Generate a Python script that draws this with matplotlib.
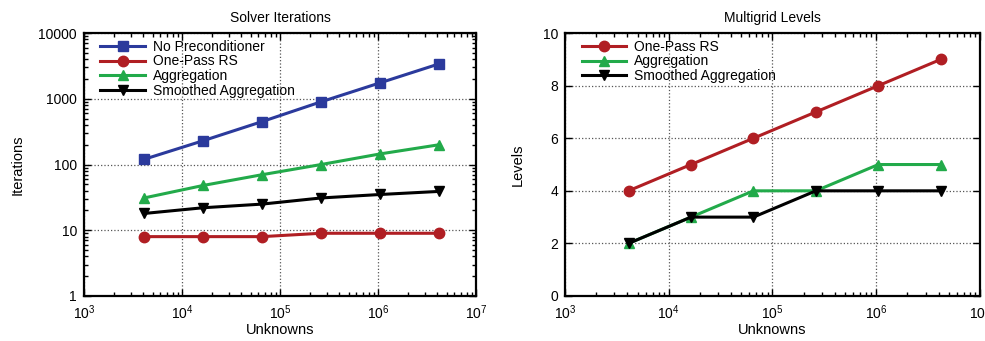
import numpy as np
import matplotlib.pyplot as plt
from matplotlib.ticker import LogLocator, NullFormatter

plt.rcParams['font.family'] = ['Liberation Sans', 'DejaVu Sans']
plt.rcParams['mathtext.fontset'] = 'custom'
plt.rcParams['mathtext.rm'] = 'Liberation Sans'

# data
unknowns = [4096, 16384, 65536, 262144, 1048576, 4194304]
iter_none = [120, 230, 450, 900, 1750, 3400]
iter_rs = [8, 8, 8, 9, 9, 9]
iter_agg = [31, 48, 70, 100, 145, 200]
iter_sa = [18, 22, 25, 31, 35, 39]
lev_rs = [4, 5, 6, 7, 8, 9]
lev_agg = [2, 3, 4, 4, 5, 5]
lev_sa = [2, 3, 3, 4, 4, 4]

blue = '#2b3a9c'
red = '#b01e23'
green = '#22aa4a'
black = '#000000'

fig = plt.figure(figsize=(9.85, 3.41), dpi=100)
ax1 = fig.add_axes([0.0853, 0.132, 0.398, 0.771])
ax2 = fig.add_axes([0.5736, 0.132, 0.4213, 0.771])

lw = 2.2
ax1.plot(unknowns, iter_none, color=blue, marker='s', ms=7.5, lw=lw, label='No Preconditioner')
ax1.plot(unknowns, iter_rs, color=red, marker='o', ms=7.5, lw=lw, label='One-Pass RS')
ax1.plot(unknowns, iter_agg, color=green, marker='^', ms=6.5, lw=lw, label='Aggregation')
ax1.plot(unknowns, iter_sa, color=black, marker='v', ms=6.5, lw=lw, label='Smoothed Aggregation')
ax1.set_yscale('log')
ax1.set_ylim(1, 10000)
ax1.set_yticks([1, 10, 100, 1000, 10000])
ax1.set_yticklabels(['1', '10', '100', '1000', '10000'])
ax1.set_ylabel('Iterations', fontsize=10.5, labelpad=10)
ax1.set_title('Solver Iterations', fontsize=10, pad=8)

ax2.plot(unknowns, lev_rs, color=red, marker='o', ms=7.5, lw=lw, label='One-Pass RS')
ax2.plot(unknowns, lev_agg, color=green, marker='^', ms=6.5, lw=lw, label='Aggregation')
ax2.plot(unknowns, lev_sa, color=black, marker='v', ms=6.5, lw=lw, label='Smoothed Aggregation')
ax2.set_ylim(0, 10)
ax2.set_yticks([0, 2, 4, 6, 8, 10])
ax2.set_ylabel('Levels', fontsize=10.5, labelpad=13)
ax2.set_title('Multigrid Levels', fontsize=10, pad=8)

for ax in (ax1, ax2):
    ax.set_xscale('log')
    ax.set_xlim(1e3, 1e7)
    ax.set_xticks([1e3, 1e4, 1e5, 1e6, 1e7])
    ax.xaxis.set_minor_locator(LogLocator(base=10, subs=np.arange(2, 10)))
    ax.xaxis.set_minor_formatter(NullFormatter())
    ax.set_xlabel('Unknowns', fontsize=10.5, labelpad=1)
    ax.grid(True, which='major', linestyle=':', color='#555555', lw=0.9)
    ax.tick_params(which='both', direction='in', top=True, right=True, labelsize=10)
    ax.tick_params(axis='x', which='major', pad=5)
    ax.tick_params(axis='y', which='major', pad=5)
    ax.tick_params(which='major', length=5, width=1)
    ax.tick_params(which='minor', length=3, width=1)
    for s in ax.spines.values():
        s.set_linewidth(1.6)
    ax.legend(loc='upper left', bbox_to_anchor=(0.015, 1.015), frameon=False, fontsize=10,
              handlelength=3.2, labelspacing=0.06, borderaxespad=0.35, handletextpad=0.6)

fig.savefig('out.png', dpi=100)
